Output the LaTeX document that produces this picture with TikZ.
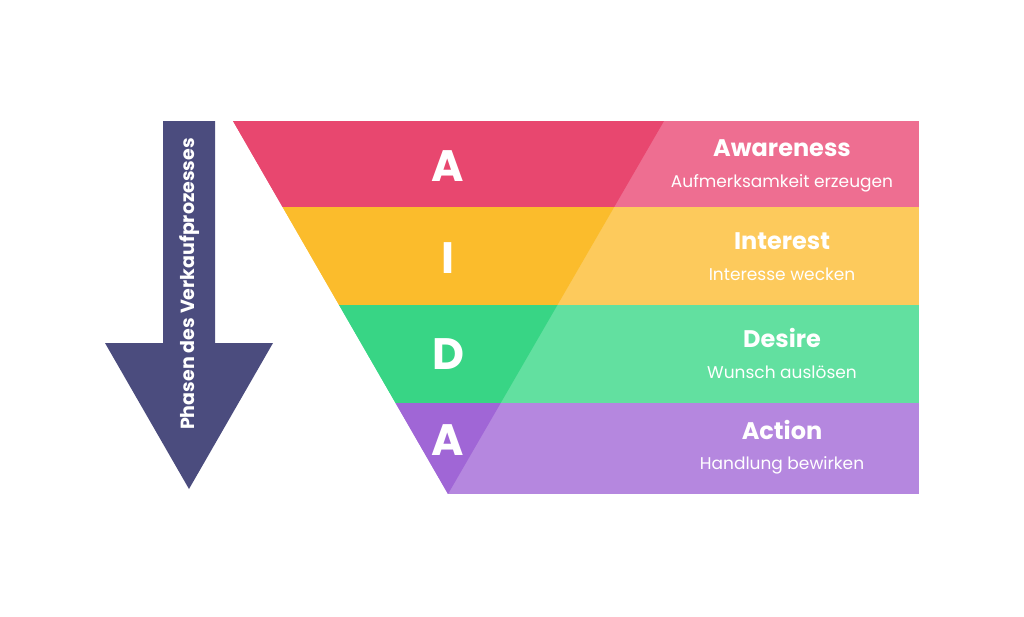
\documentclass[tikz,border=0pt]{standalone}
\usepackage{fontspec}
\setmainfont{Poppins}
\definecolor{arrowc}{HTML}{4B4C7E}
\definecolor{aDark}{HTML}{E8476F}
\definecolor{aLight}{HTML}{EE6E91}
\definecolor{iDark}{HTML}{FBBC2C}
\definecolor{iLight}{HTML}{FDCA5C}
\definecolor{dDark}{HTML}{38D585}
\definecolor{dLight}{HTML}{62E0A0}
\definecolor{cDark}{HTML}{A066D6}
\definecolor{cLight}{HTML}{B587DF}
\begin{document}
\begin{tikzpicture}[x=1pt,y=-1pt,
  letter/.style={text=white,font=\fontsize{44}{44}\selectfont\bfseries,inner sep=0pt},
  title/.style={text=white,font=\fontsize{24}{24}\selectfont\bfseries,inner sep=0pt},
  sub/.style={text=white,font=\fontsize{17}{17}\selectfont,inner sep=0pt}]
\useasboundingbox (0,0) rectangle (1024,616);
% arrow
\fill[arrowc] (163,121) -- (215,121) -- (215,343) -- (273,343) -- (189,489) -- (105,343) -- (163,343) -- cycle;
\node[text=white,font=\fontsize{19}{19}\selectfont\bfseries,rotate=90,inner sep=0pt] (phase) at (190,284) {Phasen des Verkaufprozesses};
% bands light (full)
\begin{scope}
\clip (233,121) -- (919,121) -- (919,494) -- (448,494) -- cycle;
\fill[aLight] (233,121) rectangle (919,207);
\fill[iLight] (233,207) rectangle (919,305);
\fill[dLight] (233,305) rectangle (919,403);
\fill[cLight] (233,403) rectangle (919,494);
\end{scope}
% dark triangle parts
\begin{scope}
\clip (233,121) -- (664,121) -- (448,494) -- cycle;
\fill[aDark] (233,121) rectangle (664,207);
\fill[iDark] (233,207) rectangle (664,305);
\fill[dDark] (233,305) rectangle (664,403);
\fill[cDark] (233,403) rectangle (664,494);
\end{scope}
% letters
\node[letter] (la) at (448,166) {A};
\node[letter] (li) at (448,258) {I};
\node[letter] (ld) at (448,354) {D};
\node[letter] (lc) at (448,440) {A};
% titles
\node[title] (t1) at (782,148) {Awareness};
\node[sub] (s1) at (782,183) {Aufmerksamkeit erzeugen};
\node[title] (t2) at (782,241) {Interest};
\node[sub] (s2) at (782,274) {Interesse wecken};
\node[title] (t3) at (782,338) {Desire};
\node[sub] (s3) at (782,372) {Wunsch auslösen};
\node[title] (t4) at (782,430) {Action};
\node[sub] (s4) at (782,465) {Handlung bewirken};
\end{tikzpicture}
\end{document}
